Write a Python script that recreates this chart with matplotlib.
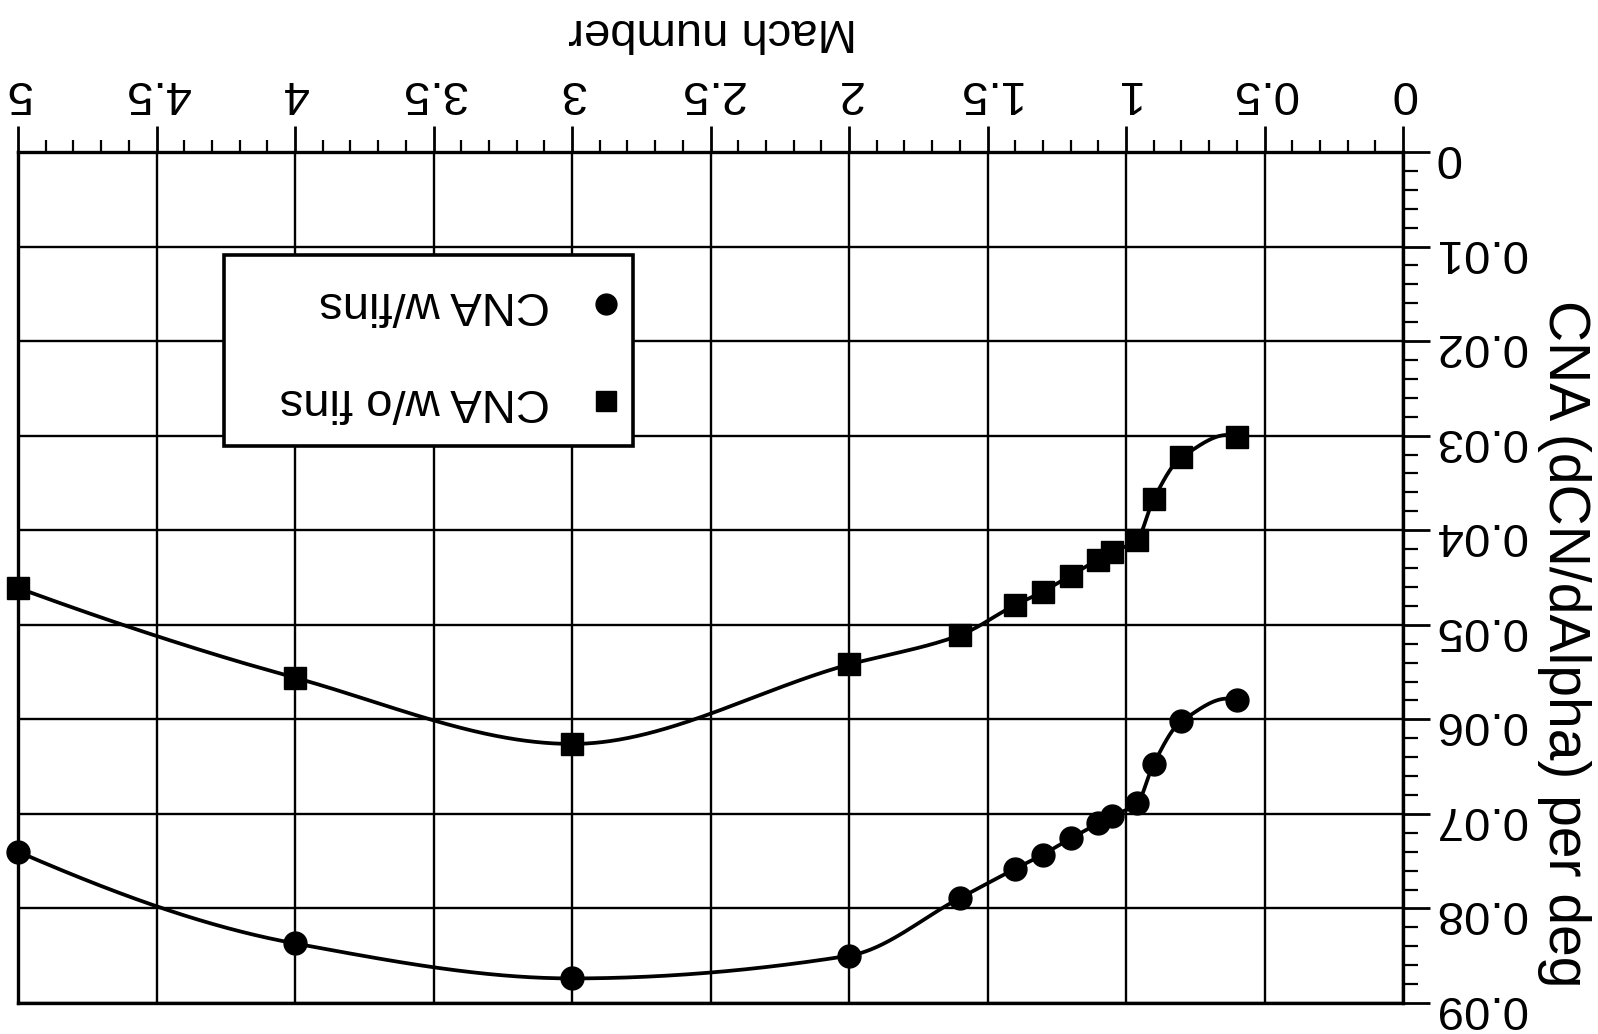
import numpy as np
import matplotlib
matplotlib.use('Agg')
import matplotlib.pyplot as plt
from matplotlib.patches import Rectangle
from matplotlib.ticker import MultipleLocator, FixedLocator

plt.rcParams['font.family'] = ['Liberation Sans', 'DejaVu Sans']

# Normal-force slope vs Mach number
mach = [0.6, 0.8, 0.9, 0.96, 1.05, 1.1, 1.2, 1.3, 1.4, 1.6, 2.0, 3.0, 4.0, 5.0]
cna_fins = [0.0580, 0.0602, 0.0647, 0.0689, 0.0702, 0.0710, 0.0726, 0.0743,
            0.0758, 0.0789, 0.0850, 0.0874, 0.0837, 0.0740]
cna_nofins = [0.0301, 0.0323, 0.0367, 0.0410, 0.0423, 0.0431, 0.0448, 0.0465,
              0.0479, 0.0511, 0.0542, 0.0626, 0.0556, 0.0461]

x_ticks = [0, 0.5, 1, 1.5, 2, 2.5, 3, 3.5, 4, 4.5, 5]
x_labels = ['0', '0.5', '1', '1.5', '2', '2.5', '3', '3.5', '4', '4.5', '5']
y_ticks = [0, 0.01, 0.02, 0.03, 0.04, 0.05, 0.06, 0.07, 0.08, 0.09]
y_labels = ['0', '0.01', '0.02', '0.03', '0.04', '0.05', '0.06', '0.07', '0.08', '0.09']

FS = 34


def smooth_curve(xs, ys, num=800):
    # piecewise cubic Hermite (Fritsch-Carlson slopes) through the points
    xs = np.asarray(xs, float)
    ys = np.asarray(ys, float)
    h = np.diff(xs)
    d = np.diff(ys) / h
    n = len(xs)
    m = np.zeros(n)
    for i in range(1, n - 1):
        if d[i - 1] * d[i] <= 0:
            m[i] = 0.0
        else:
            w1 = 2 * h[i] + h[i - 1]
            w2 = h[i] + 2 * h[i - 1]
            m[i] = (w1 + w2) / (w1 / d[i - 1] + w2 / d[i])
    m[0] = ((2 * h[0] + h[1]) * d[0] - h[0] * d[1]) / (h[0] + h[1])
    m[-1] = ((2 * h[-1] + h[-2]) * d[-1] - h[-1] * d[-2]) / (h[-1] + h[-2])
    xx = np.linspace(xs[0], xs[-1], num)
    idx = np.clip(np.searchsorted(xs, xx) - 1, 0, n - 2)
    hh = h[idx]
    t = (xx - xs[idx]) / hh
    h00 = 2 * t ** 3 - 3 * t ** 2 + 1
    h10 = t ** 3 - 2 * t ** 2 + t
    h01 = -2 * t ** 3 + 3 * t ** 2
    h11 = t ** 3 - t ** 2
    yy = (h00 * ys[idx] + h10 * hh * m[idx]
          + h01 * ys[idx + 1] + h11 * hh * m[idx + 1])
    return xx, yy


fig = plt.figure(figsize=(15.98, 10.34), dpi=100)
ax = fig.add_axes([18 / 1598, 1 - 1003 / 1034, 1385 / 1598, 851 / 1034])

# whole chart is shown turned upside down
ax.set_xlim(5, 0)
ax.set_ylim(0.09, 0)

ax.xaxis.tick_top()
ax.yaxis.tick_right()
ax.xaxis.set_major_locator(FixedLocator(x_ticks))
ax.xaxis.set_minor_locator(MultipleLocator(0.1))
ax.yaxis.set_major_locator(FixedLocator(y_ticks))
ax.yaxis.set_minor_locator(MultipleLocator(0.002))
ax.set_xticklabels(x_labels)
ax.set_yticklabels(y_labels)

ax.tick_params(axis='x', which='major', direction='out', length=19, width=2,
               labelsize=FS, labelrotation=180, pad=8)
ax.tick_params(axis='x', which='minor', direction='out', length=9, width=1.6)
ax.tick_params(axis='y', which='major', direction='out', length=19.5, width=2,
               labelsize=FS, labelrotation=180, pad=3)
ax.tick_params(axis='y', which='minor', direction='out', length=11, width=1.6)
for lab in ax.get_yticklabels():
    lab.set_horizontalalignment('left')

for sp in ax.spines.values():
    sp.set_linewidth(2.4)

ax.set_axisbelow(True)
ax.grid(which='major', color='black', linewidth=1.7)

for vals, marker in [(cna_fins, 'o'), (cna_nofins, 's')]:
    cx, cy = smooth_curve(mach, vals)
    ax.plot(cx, cy, color='black', linewidth=2.7, zorder=3, clip_on=False)
    ax.plot(mach, vals, linestyle='none', marker=marker, markersize=16.5,
            markerfacecolor='black', markeredgecolor='black', zorder=4,
            clip_on=False)

# legend box
ax.add_patch(Rectangle((2.78, 0.0109), 4.256 - 2.78, 0.0311 - 0.0109,
                       facecolor='white', edgecolor='black', linewidth=2.6,
                       zorder=5))
ax.plot([2.876], [0.01605], marker='o', markersize=15, color='black',
        linestyle='none', zorder=6)
ax.plot([2.876], [0.0263], marker='s', markersize=15, color='black',
        linestyle='none', zorder=6)
ax.text(3.08, 0.01605, 'CNA w/fins', fontsize=FS, rotation=180,
        ha='right', va='center', zorder=6)
ax.text(3.08, 0.0263, 'CNA w/o fins', fontsize=FS, rotation=180,
        ha='right', va='center', zorder=6)

fig.text(0.4457, 0.9704, 'Mach number', fontsize=FS, rotation=180,
         ha='center', va='center')
fig.text(0.979, 0.377, 'CNA (dCN/dAlpha) per deg', fontsize=41, rotation=270,
         ha='center', va='center')

fig.savefig('out.png', dpi=100, facecolor='white')
